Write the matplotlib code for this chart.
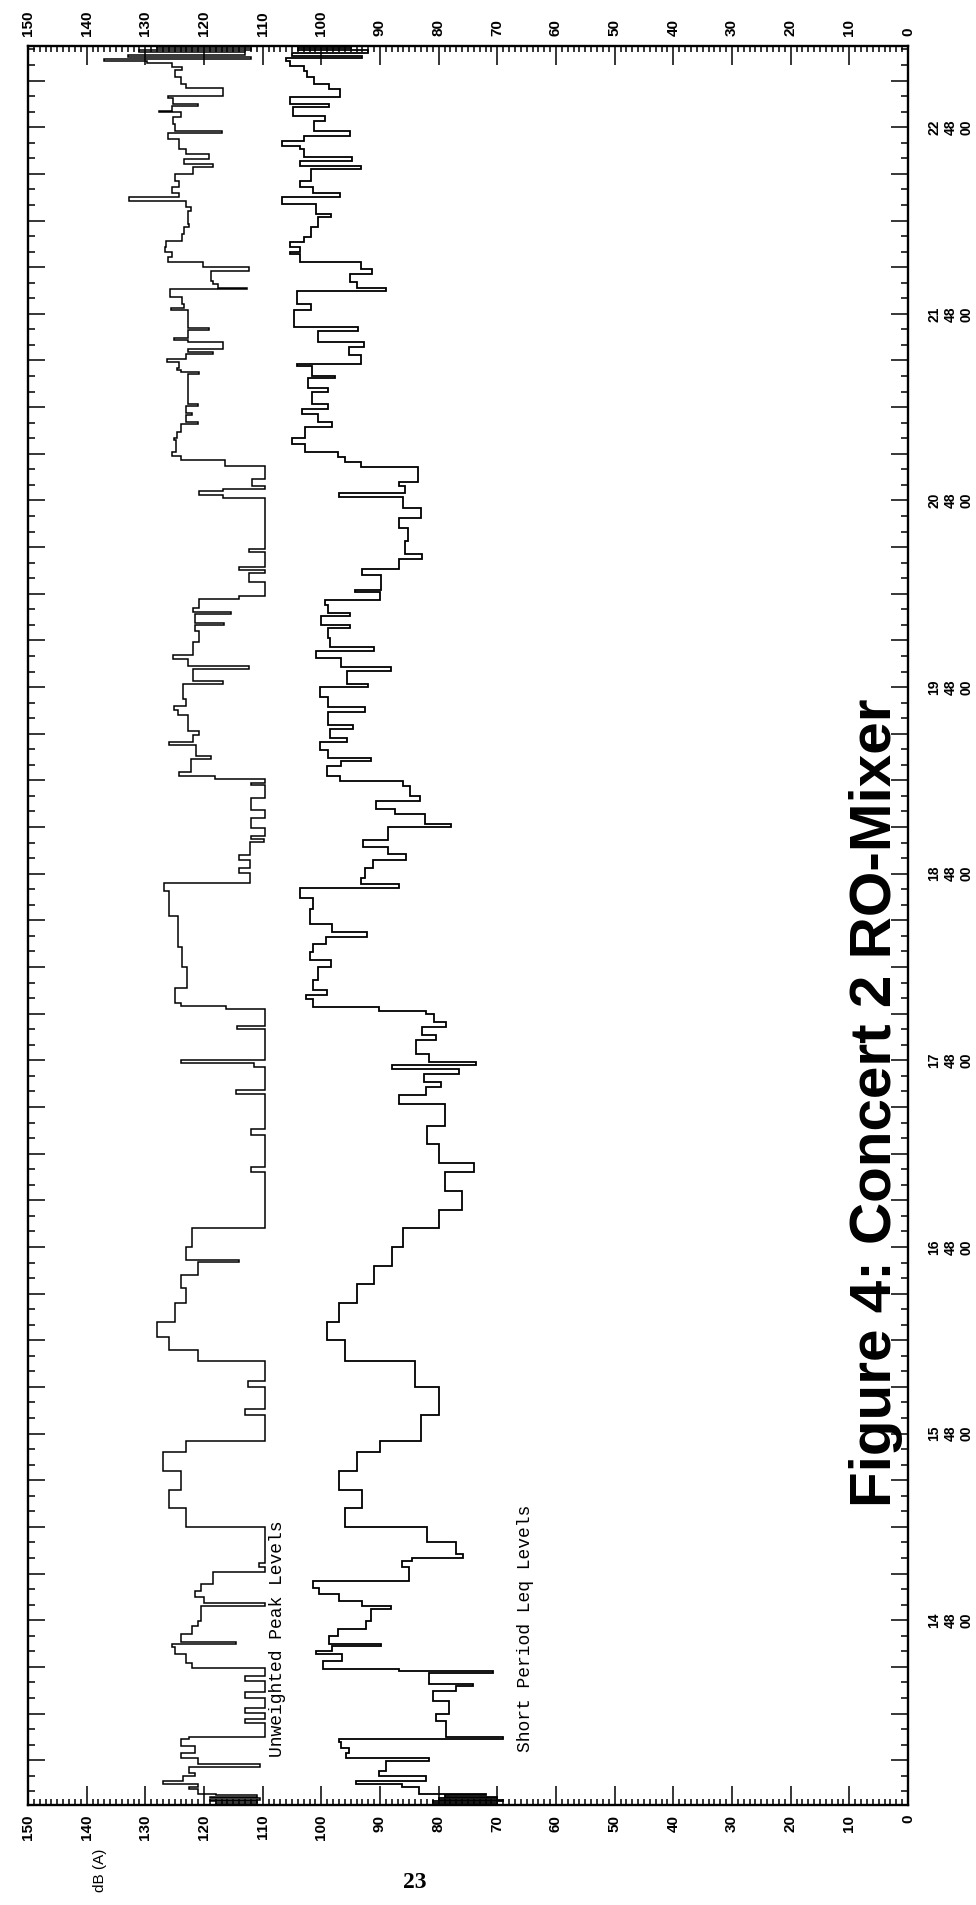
import numpy as np
import matplotlib
matplotlib.use('Agg')
import matplotlib.pyplot as plt
from matplotlib.ticker import FixedLocator, FuncFormatter

# Time of each step start in decimal hours, level in dB(A).
# Unweighted peak trace, split in sections going up the page
peak_t_a = [13.81, 13.823, 13.831, 13.839, 13.847, 13.855, 13.862,
            13.868, 13.895, 13.907, 13.925, 13.936, 13.966, 13.984, 14.016, 14.032, 14.064,
            14.091, 14.127, 14.163, 14.175, 14.252, 14.270, 14.305, 14.329, 14.386, 14.413,
            14.475, 14.502, 14.543, 14.573, 14.618, 14.654, 14.675, 14.686, 14.725, 14.770,
            14.797, 14.877, 14.891, 14.922, 14.958, 14.993, 15.056, 15.083, 15.109]
peak_db_a = [118, 111, 119, 110.5, 119, 111, 118,
             121, 122.5, 121, 127, 123.5, 121.5, 122.5, 110.5, 121, 124,
             121.5, 124, 122.5, 109.6, 113, 109.6, 113, 109.6, 113, 109.6,
             113, 109.6, 122, 123, 125, 125.5, 114.5, 124, 122, 121,
             120.5, 109.6, 120, 121.5, 120.5, 118.5, 109.6, 110.6, 109.6]

peak_t_b = [15.30, 15.40, 15.50, 15.60, 15.70, 15.76, 15.90, 15.93, 16.05, 16.08,
            16.19, 16.25, 16.32, 16.40, 16.50, 16.58, 16.65, 16.72, 16.73, 16.80,
            16.904, 17.20, 17.23, 17.40, 17.43]
peak_db_b = [123, 126, 124, 127, 123, 109.6, 113, 109.6, 112.5, 109.6,
             121, 126, 128, 125, 123, 124, 121, 114, 123, 122,
             109.6, 112, 109.6, 112, 109.6]

peak_t_c = [17.567, 17.621, 17.643, 17.766, 17.785, 17.802, 17.966, 17.985, 18.075, 18.091,
            18.108, 18.190, 18.299, 18.408, 18.572, 18.709, 18.750, 18.805, 18.832, 18.873,
            18.900, 18.969, 18.988, 19.004, 19.045, 19.097, 19.141, 19.206, 19.277, 19.288,
            19.310, 19.321, 19.343, 19.414, 19.433, 19.491, 19.507, 19.543, 19.562, 19.652,
            19.679, 19.698, 19.734, 19.816, 19.830, 19.898, 19.912, 19.953, 19.974, 20.043,
            20.103, 20.130, 20.144, 20.193, 20.204, 20.226, 20.272, 20.286, 20.363, 20.412,
            20.425, 20.444, 20.524, 20.540, 20.813, 20.830, 20.852, 20.863, 20.876, 20.915,
            20.983, 21.018, 21.038, 21.059, 21.125, 21.136, 21.169, 21.212, 21.223, 21.259,
            21.270, 21.305, 21.316, 21.478, 21.486, 21.497, 21.508, 21.543, 21.560, 21.587,
            21.595, 21.612, 21.647, 21.661, 21.672, 21.715, 21.726, 21.819, 21.830]
peak_db_c = [109.6, 114.5, 109.6, 111.4, 124.0, 109.6, 114.3, 109.6, 116.3, 124.0,
             124.9, 122.9, 123.7, 124.5, 126.0, 126.8, 112.2, 114.1, 112.2, 114.1,
             112.2, 109.8, 112.0, 109.6, 112.0, 109.6, 112.0, 109.6, 112.0, 109.6,
             118.1, 124.3, 122.3, 118.8, 121.3, 126.0, 121.9, 120.8, 122.8, 124.5,
             125.1, 123.1, 123.5, 116.7, 121.8, 112.3, 122.8, 125.3, 121.9, 120.8,
             121.6, 116.6, 121.6, 115.4, 121.9, 120.8, 114.0, 109.6, 112.4, 109.6,
             114.1, 109.6, 112.3, 109.6, 116.7, 120.8, 116.7, 109.6, 111.9, 109.6,
             116.5, 123.9, 125.4, 124.8, 125.1, 124.6, 123.9, 121.1, 123.1, 122.0,
             123.1, 121.1, 122.7, 120.8, 123.9, 124.6, 124.2, 126.3, 123.1, 118.5,
             122.8, 116.8, 122.8, 125.1, 122.8, 119.1, 122.7, 125.7, 123.4]

peak_t_d = [21.852, 21.888, 21.932, 21.941, 21.959, 21.977, 22.031, 22.049, 22.075, 22.102,
            22.129, 22.156, 22.191, 22.227, 22.263, 22.281, 22.352, 22.370, 22.406, 22.424,
            22.450, 22.477, 22.513, 22.549, 22.585, 22.602, 22.629, 22.656, 22.683, 22.736,
            22.767, 22.781, 22.817, 22.852, 22.879, 22.888, 22.915, 22.924, 22.956, 22.969,
            23.010, 23.031, 23.067, 23.106, 23.120, 23.142, 23.156,
            23.165, 23.177, 23.189, 23.201, 23.213, 23.224]
peak_db_d = [123.7, 125.8, 112.7, 117.6, 118.5, 118.8, 112.4, 120.1, 126.1, 125.5,
             126.7, 126.4, 123.7, 123.4, 122.5, 122.8, 122.2, 123.1, 132.8, 124.3,
             125.5, 124.3, 124.9, 121.9, 118.5, 123.4, 119.1, 123.1, 124.3, 126.1,
             117.0, 124.9, 125.2, 124.0, 127.7, 125.5, 121.0, 125.2, 126.1, 116.7,
             123.1, 124.0, 124.9, 123.7, 125.5, 129.8, 137.1,
             112, 133, 113, 131, 112, 128]

# Short period Leq trace
leq_t_a = [13.81, 13.823, 13.831, 13.839, 13.847, 13.855, 13.862,
           13.868, 13.904, 13.925, 13.936, 13.966, 13.993, 14.046, 14.061, 14.091, 14.118,
           14.145, 14.166, 14.177, 14.261, 14.297, 14.368, 14.422, 14.448, 14.461, 14.515,
           14.529, 14.538, 14.582, 14.618, 14.636, 14.663, 14.675, 14.716, 14.752, 14.797,
           14.859, 14.874, 14.904, 14.940, 14.975, 15.011, 15.083, 15.118, 15.136]
leq_db_a = [70, 81, 69, 80, 70, 79, 72,
            83.3, 86.2, 94.1, 82.2, 90.1, 89.0, 81.6, 95.8, 95.2, 96.7,
            97.0, 69.1, 78.8, 80.5, 78.2, 81.0, 77.1, 74.2, 81.6, 70.8,
            86.7, 99.8, 96.4, 100.9, 98.1, 89.8, 98.7, 97.2, 92.4, 91.6,
            88.1, 93.0, 97.0, 100.4, 101.5, 85.0, 86.2, 84.5, 75.9]

leq_t_b = [15.154, 15.22, 15.30, 15.40, 15.50, 15.60, 15.70, 15.76, 15.90, 16.05,
           16.19, 16.30, 16.40, 16.50, 16.60, 16.70, 16.80, 16.904, 17.00, 17.10,
           17.20, 17.25, 17.35, 17.45]
leq_db_b = [77, 82, 96, 93, 97, 94, 90, 83, 80, 84,
            96, 99, 97, 94, 91, 88, 86, 80, 76, 79,
            74, 80, 82, 79]

leq_t_c = [17.567, 17.616, 17.657, 17.684, 17.725, 17.753, 17.774, 17.793, 17.834, 17.911,
           17.938, 17.977, 18.004, 18.048, 18.067, 18.086, 18.130, 18.149, 18.176, 18.231,
           18.299, 18.340, 18.381, 18.422, 18.463, 18.485, 18.531, 18.613, 18.668, 18.723,
           18.745, 18.777, 18.832, 18.873, 18.906, 18.941, 18.982, 19.048, 19.064, 19.119,
           19.146, 19.187, 19.215, 19.269, 19.297, 19.324, 19.379, 19.403, 19.420, 19.461,
           19.507, 19.529, 19.578, 19.597, 19.666, 19.693, 19.748, 19.802, 19.816, 19.884,
           19.906, 19.958, 19.994, 20.015, 20.062, 20.117, 20.130, 20.179, 20.199, 20.240,
           20.267, 20.308, 20.322, 20.403, 20.431, 20.486, 20.513, 20.581, 20.650, 20.704,
           20.759, 20.819, 20.841, 20.879, 20.901, 20.977, 21.005, 21.032, 21.059, 21.100,
           21.136, 21.196, 21.223, 21.264, 21.292, 21.319, 21.382, 21.401, 21.456, 21.469,
           21.519, 21.530, 21.579, 21.620, 21.647, 21.710, 21.729, 21.819]
leq_db_c = [86.7, 82.2, 79.6, 82.5, 76.5, 88.0, 73.6, 81.6, 83.9, 80.5,
            82.8, 78.8, 80.8, 82.2, 90.1, 101.5, 102.6, 99.0, 101.5, 100.6,
            98.4, 102.0, 101.5, 99.2, 92.2, 98.1, 102.0, 101.5, 103.7, 86.8,
            93.2, 92.6, 91.2, 85.5, 88.6, 92.9, 88.6, 77.9, 82.4, 87.5,
            90.6, 83.2, 84.9, 86.0, 96.8, 99.1, 96.6, 91.5, 98.8, 100.3,
            95.7, 98.5, 94.6, 98.8, 92.5, 98.8, 100.3, 92.0, 95.7, 88.1,
            96.6, 100.9, 91.1, 98.5, 98.8, 95.1, 100.0, 95.1, 98.8, 99.4,
            90.0, 94.3, 89.9, 93.0, 86.7, 82.8, 85.8, 85.3, 86.7, 83.0,
            86.0, 97.0, 85.8, 86.7, 83.5, 93.2, 96.0, 97.1, 102.8, 105.0,
            102.8, 98.2, 100.5, 103.3, 98.8, 101.6, 98.8, 102.2, 97.7, 101.6,
            104.2, 93.2, 95.2, 92.7, 100.6, 93.8, 104.6, 101.8]

leq_t_d = [21.852, 21.924, 21.941, 21.968, 22.013, 22.040, 22.075, 22.120, 22.129, 22.156,
           22.183, 22.209, 22.263, 22.317, 22.335, 22.388, 22.424, 22.445, 22.477, 22.513,
           22.576, 22.593, 22.620, 22.642, 22.683, 22.701, 22.727, 22.754, 22.781, 22.835,
           22.861, 22.906, 22.924, 22.960, 23.004, 23.031, 23.067, 23.103, 23.129,
           23.156, 23.170, 23.184, 23.198, 23.212, 23.224]
leq_db_d = [104.2, 89.0, 93.9, 95.1, 91.4, 93.3, 103.6, 105.4, 103.6, 105.4,
            103.0, 101.8, 100.6, 98.4, 100.9, 106.7, 96.9, 101.5, 103.6, 101.8,
            93.3, 103.6, 94.8, 103.0, 103.6, 106.7, 103.0, 95.1, 101.2, 99.4,
            104.8, 98.7, 105.4, 96.9, 98.7, 101.2, 102.4, 103.0, 105.4,
            106, 93, 105, 92, 104, 95]

db_ticks = list(range(0, 151, 10))
hour_ticks = [14.8, 15.8, 16.8, 17.8, 18.8, 19.8, 20.8, 21.8, 22.8]
hour_labels = ['14\n48\n00', '15\n48\n00', '16\n48\n00', '17\n48\n00', '18\n48\n00',
               '19\n48\n00', '20\n48\n00', '21\n48\n00', '22\n48\n00']

T_MIN, T_MAX = 13.81, 23.235
W, H = 976, 1905


def step_edges(times, levels):
    # pair starts with levels, close the last step at the end of the record
    pairs = list(zip(times, levels))
    edges = [p[0] for p in pairs] + [T_MAX]
    vals = [p[1] for p in pairs]
    return vals, edges


def time_label(v, pos):
    for t, lab in zip(hour_ticks, hour_labels):
        if abs(v - t) < 1e-6:
            return lab
    return ''


def make_plot():
    plt.rcParams['font.family'] = ['Liberation Sans', 'DejaVu Sans']
    fig = plt.figure(figsize=(W / 100, H / 100), dpi=100)

    # the page is printed sideways: dB runs across, time runs up
    ax = fig.add_axes([28 / W, (H - 1805) / H, 880 / W, 1759 / H])

    peak_vals, peak_edges = step_edges(peak_t_a + peak_t_b + peak_t_c + peak_t_d,
                                       peak_db_a + peak_db_b + peak_db_c + peak_db_d)
    leq_vals, leq_edges = step_edges(leq_t_a + leq_t_b + leq_t_c + leq_t_d,
                                     leq_db_a + leq_db_b + leq_db_c + leq_db_d)
    ax.stairs(peak_vals, peak_edges, orientation='horizontal', baseline=None,
              color='black', linewidth=1.1)
    ax.stairs(leq_vals, leq_edges, orientation='horizontal', baseline=None,
              color='black', linewidth=1.3)

    ax.set_xlim(150, 0)
    ax.set_ylim(T_MIN, T_MAX)

    # dB axis, labelled on both long edges
    ax.xaxis.set_major_locator(FixedLocator(db_ticks))
    ax.xaxis.set_minor_locator(FixedLocator(np.arange(0, 151, 1)))
    ax.tick_params(axis='x', which='both', direction='in', top=True, bottom=True,
                   labeltop=True, labelbottom=True, labelrotation=90, width=1.1)
    ax.tick_params(axis='x', which='major', length=14, pad=7, labelsize=11)
    ax.tick_params(axis='x', which='minor', length=4)

    # time axis: long ticks every 15 min, short every 5 min
    ax.yaxis.set_major_locator(FixedLocator(np.arange(14.8 - 1.0, T_MAX, 0.25)))
    ax.yaxis.set_minor_locator(FixedLocator(np.arange(14.8 - 1.0, T_MAX, 1 / 12)))
    ax.yaxis.set_major_formatter(FuncFormatter(time_label))
    ax.tick_params(axis='y', which='both', direction='in', left=True, right=True,
                   labelleft=False, labelright=True, labelrotation=90, width=1.1)
    ax.tick_params(axis='y', which='major', length=12, pad=14, labelsize=10)
    ax.tick_params(axis='y', which='minor', length=5)

    for lab in ax.get_xticklabels() + ax.get_yticklabels():
        lab.set_fontweight('bold')
    for lab in ax.get_yticklabels():
        lab.set_verticalalignment('center')

    for sp in ax.spines.values():
        sp.set_linewidth(1.7)

    # trace labels
    fig.text(277 / W, 1 - 1757 / H, 'Unweighted Peak Levels', rotation=90,
             ha='center', va='bottom', fontsize=13, family='Liberation Mono')
    fig.text(525 / W, 1 - 1752 / H, 'Short Period Leq Levels', rotation=90,
             ha='center', va='bottom', fontsize=13, family='Liberation Mono')

    fig.text(876 / W, 1 - 1103 / H, 'Figure 4: Concert 2 RO-Mixer', rotation=90,
             ha='center', va='center', fontsize=42, fontweight='bold',
             family=['Liberation Sans Narrow', 'Liberation Sans'])

    fig.text(100 / W, 1 - 1870 / H, 'dB (A)', rotation=90, ha='center', va='center',
             fontsize=11)
    fig.text(415 / W, 1 - 1883 / H, '23', ha='center', va='center',
             fontsize=17, fontweight='bold', family='Liberation Serif')

    fig.savefig('out.png', dpi=100)
    plt.close(fig)


if __name__ == '__main__':
    make_plot()
